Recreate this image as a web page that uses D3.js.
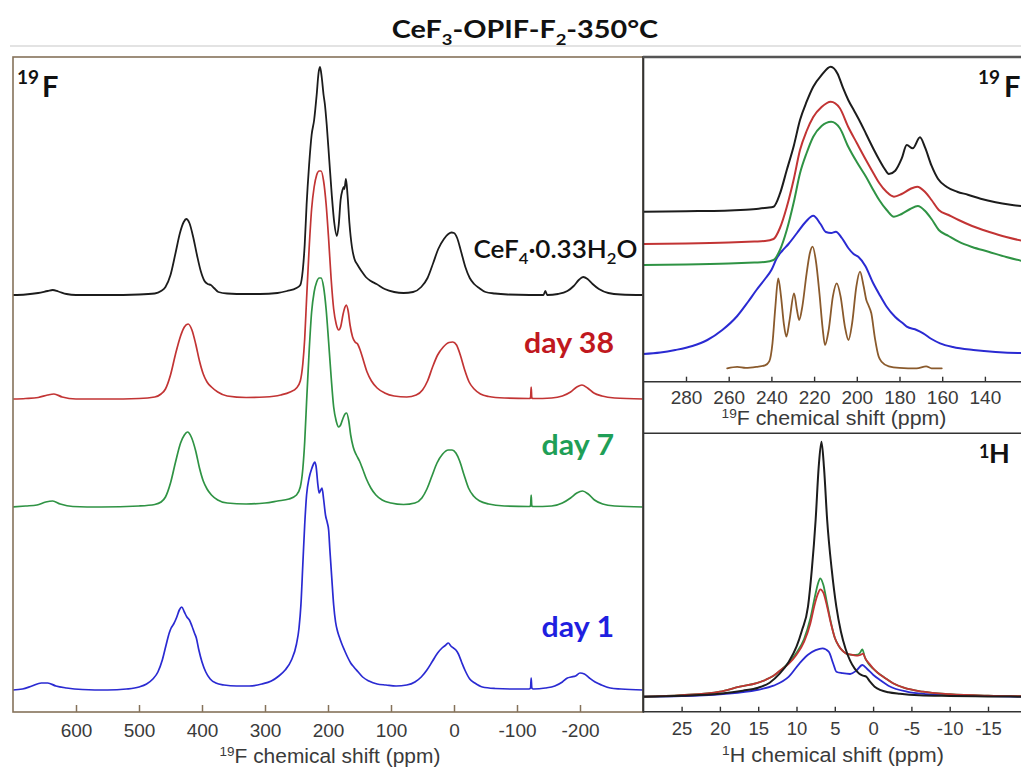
<!DOCTYPE html>
<html><head><meta charset="utf-8">
<script src="https://cdn.jsdelivr.net/npm/d3@7"></script>
<style>body{margin:0;background:#fff}svg{display:block}</style>
</head><body>
<svg id="c" width="1021" height="769"></svg>
<script>
// ---------- DATA ----------
const mainTicks = [600,500,400,300,200,100,0,-100,-200];
const f19Ticks = [280,260,240,220,200,180,160,140];
const h1Ticks = [25,20,15,10,5,0,-5,-10,-15];

const mainLabels = ["CeF4·0.33H2O","day 38","day 7","day 1"];
const mainOffsets = [417, 313, 205, 22];   // stacking offsets (a.u.)

const mainBlack = [[700,0],[680,0.5],[660,2],[645,4],[637,5],[628,3.5],[615,1],[600,0],[550,0],[500,0.5],[475,1.5],[465,4],[458,8],[450,20],[442,42],[435,62],[429,73],[425,76],[420,72],[414,58],[408,40],[402,24],[396,14],[391,11],[386,10],[381,7],[374,3],[360,1.5],[330,1],[308,1],[280,2],[265,4],[250,7],[244,10],[240,25],[237,50],[234,90],[230,130],[226,160],[222,175],[218,200],[215,222],[212.7,228],[210,218],[207,200],[205,191],[202,170],[198,135],[194,100],[190,72],[186,59],[183,70],[180,95],[177,105],[175,108],[174,106],[171.5,116],[169,100],[166,72],[162,48],[158,36],[153,30],[147,24],[140,18],[132,14],[123,11],[110,6],[95,3],[80,2],[65,3],[52,8],[42,17],[33,32],[25,46],[16,56],[9,61],[4,62.5],[0,62],[-5,57],[-11,44],[-18,28],[-25,17],[-32,11],[-40,7],[-50,3],[-65,1.5],[-85,0.5],[-120,0],[-142,0],[-145,4],[-148,0],[-165,1],[-180,4],[-190,9],[-198,15],[-205,18],[-212,16],[-220,11],[-230,6],[-245,2],[-265,0.5],[-300,0]];
const mainRed = [[700,0],[680,0.5],[660,1.5],[645,4],[635,5],[622,2],[600,0],[550,0],[500,0.5],[475,2],[465,5],[458,10],[450,24],[442,45],[434,63],[428,72],[422,75],[416,69],[410,55],[404,38],[398,25],[392,17],[385,12],[375,7],[360,3],[330,1.5],[300,2],[275,4],[260,7],[250,11],[244,18],[240,35],[237,60],[234,100],[230,150],[226,190],[222,212],[218,224],[214,228],[211,228],[207,218],[203,195],[199,160],[195,120],[191,90],[187,75],[183,69],[180,72],[176,85],[173,92],[171,94],[168,88],[165,74],[161,62],[157,57],[153,55],[149,49],[144,39],[138,27],[131,18],[122,11],[110,6],[95,3],[75,2],[60,4],[50,9],[42,18],[34,32],[26,44],[17,52],[8,56.5],[2,57],[-4,54],[-10,44],[-17,29],[-24,17],[-32,10],[-42,5],[-55,2.5],[-80,1],[-119,0.5],[-121.5,1],[-122.5,12],[-123.5,1],[-126,0.5],[-155,1],[-172,3],[-185,7],[-195,12],[-203,14],[-212,11],[-222,6],[-235,3],[-255,1],[-300,0]];
const mainGreen = [[700,0],[680,1],[662,2],[648,5],[637,6],[625,3],[605,0.5],[560,0],[500,1],[475,2.5],[465,5],[458,10],[450,24],[442,45],[434,64],[428,72],[423,75],[417,70],[410,56],[404,39],[398,26],[392,18],[385,12],[375,7],[360,4],[330,3],[300,4],[280,6],[262,8],[250,12],[244,20],[240,38],[237,65],[234,105],[230,155],[226,195],[222,215],[218,225],[214,229],[211,229],[207,220],[203,198],[199,165],[195,130],[191,100],[187,86],[183,80],[180,82],[176,89],[173,93],[170.5,94],[167,86],[164,72],[160,60],[155,52],[150,46],[145,38],[139,28],[132,19],[124,12],[114,7],[100,4],[80,2.5],[62,4],[51,9],[43,18],[35,31],[27,44],[18,53],[9,57],[3,57],[-3,54],[-9,46],[-16,32],[-23,19],[-31,11],[-41,6],[-55,3],[-80,1],[-119,0.5],[-121.5,1],[-122.5,12],[-123.5,1],[-126,0.5],[-155,1],[-172,4],[-185,9],[-195,14],[-204,16],[-213,13],[-223,7],[-236,3],[-255,1],[-300,0]];
const mainBlue = [[700,0],[685,1],[670,4],[655,7],[645,7],[632,4],[615,2],[590,0.5],[550,0],[520,1],[500,3],[488,6],[478,11],[470,18],[463,30],[457,45],[452,57],[449,62],[445,66],[440,73],[436,80],[432,83],[428,78],[424,73],[420,70],[416,64],[412,57],[409,52],[405,40],[400,28],[394,18],[387,11],[378,7],[365,5],[345,4],[325,4],[305,6],[290,9],[278,14],[268,20],[258,30],[250,46],[246,62],[243,85],[240,125],[237,165],[234,195],[230,212],[226,221],[223,226],[221,228],[219,224],[216,205],[214,197],[211.5,200],[209.5,202],[207,191],[204,175],[201,167],[199,160],[197,140],[194,112],[191,85],[188,68],[185,59],[182,53],[178,46],[174,40],[169,33],[164,27],[159,23],[152,18],[145,13],[135,9],[122,6],[108,5],[92,4],[75,5],[62,8],[52,13],[43,20],[34,29],[26,37],[19,42],[13,45],[9,47],[5,44],[1,42],[-3,40],[-7,36],[-12,28],[-18,19],[-25,11],[-33,7],[-45,3],[-65,1.5],[-90,1],[-119,1],[-121.5,2],[-122.5,12],[-123.5,2],[-126,1],[-145,2],[-160,4],[-172,8],[-180,12],[-186,13],[-193,14],[-200,17],[-207,16],[-215,12],[-224,8],[-234,5],[-248,2],[-265,1],[-300,0]];

// 19F expansion (upper right)
const f19Offsets = [170, 137.7, 116.7, 27.7, 13.4];
const f19Black = [[300,0],[280,0.5],[262,1],[252,2],[246,3],[242,4],[239,5],[236,18],[232.8,41.7],[229.5,66],[226.6,91.7],[223.5,110],[220.4,125],[216.5,136.7],[212.2,145],[209,138],[206.5,124],[204,111.7],[201,100],[198,88],[195.7,78],[192,62],[189.5,52],[187,43],[185,37.7],[182,41],[179,53],[176.6,66.7],[173.8,63.4],[170.4,74.4],[168,64],[165,46],[162,33],[158,25],[153,20],[148,17],[142,13],[135,9.5],[128,7],[120,5]];
const f19Red = [[300,0],[280,0.5],[260,1.5],[248,2.5],[243,3],[239,5],[236,16],[232.8,37],[229.5,65],[226.6,94],[223.5,113],[220.4,127],[216.5,137],[212.2,142.3],[208,136],[204,117],[200,101],[195.7,84],[192,70],[189.5,61],[186,52],[182.6,47.3],[179,50],[175,55],[171.7,57.3],[168,52],[165,44],[161.6,34],[157,29],[152.3,24],[146,18],[138.3,12.3],[130,7],[123,3.5],[120,2.5]];
const f19Green = [[300,0],[280,0.5],[260,1.5],[248,2.5],[243,3],[239,5],[236,15],[232.8,35],[229.5,63],[226.6,91.7],[223.5,112],[220.4,128.3],[216.5,139],[212,143.3],[208,137],[204,118.3],[200,103],[195.7,88.3],[192,74],[189.5,65],[186,55],[182.6,48.3],[179,51],[175,56],[171.4,59],[168,54],[165,46],[161.6,35],[157,29],[152.3,23.3],[146,18],[138.3,13.3],[130,8],[123,4.3],[120,3]];
const f19Blue = [[300,0],[292,1.5],[285,4],[277,8],[270,14],[263,24],[256,38],[251,52],[247,64],[243,75],[240,84],[237.5,95.7],[235,103],[232,110],[228,121],[224,132],[220.4,138.3],[217,130],[214.5,122],[212,121],[209.8,122.3],[207,116],[204,106],[201.5,100],[199.3,97.3],[196,88],[192.3,70.7],[189,58],[186,47.3],[182,37],[178,30],[176.6,27.3],[172,24],[168.9,20.7],[165,15],[161,10.7],[155,7],[145.4,4],[135,2],[123,1],[120,1]];
const f19Brown = [[260.7,0],[256,1.5],[252,0.5],[247,1.5],[243,3],[241,7],[239.5,25],[238.2,60],[236.8,90],[235.5,72],[234.2,45],[233,31.6],[231.5,48],[229.4,75],[228,58],[227,48.3],[225.5,62],[223.5,95],[222,115],[220.7,121.6],[219.2,108],[217.5,75],[216,40],[214.9,23.3],[213.2,38],[211.2,72],[209.4,85],[207.6,72],[205.6,42],[203.9,28.3],[202.2,45],[200.2,82],[198.5,96.6],[196.8,82],[195.5,68],[194.6,63.3],[193.2,55],[191.5,30],[189.8,12],[188.4,6.6],[185,2],[180,0.5],[172,0],[167.5,2],[165,0],[160.2,0]];

// 1H (lower right)
const h1Offset = 15;
const h1Black = [[30,0],[25,1],[20,3],[17,6],[15,9],[13.5,14],[12.2,23],[11,35],[10,50],[9.3,66],[8.5,90],[8.0,127],[7.5,177],[7.1,230],[6.74,255],[6.4,228],[6.0,177],[5.4,127],[4.8,90],[4.2,65],[3.6,48],[3.0,36],[2.4,28],[1.8,23],[1.3,21],[0.9,20],[0.4,15],[-0.2,10],[-1,6.5],[-2,4.5],[-3.5,3],[-6,1.5],[-10,0.8],[-15,0.3],[-20,0]];
const h1Red = [[30,0],[25,1.5],[20,5],[17.4,10],[15.2,13.5],[14,17],[13,21],[12,27],[11,33],[10,42],[9,55],[8.2,73],[7.6,93],[7.2,103],[6.9,107.4],[6.5,104],[6.0,90],[5.5,73],[5.0,59],[4.5,51],[4.0,46],[3.5,43],[2.6,41.7],[2.0,41],[1.6,42],[1.3,43],[1.0,38],[0.5,33],[0,28.4],[-0.6,24],[-1.5,19],[-2.6,13.4],[-4,9],[-6.5,5],[-10,2.5],[-15,1],[-20,0.5]];
const h1Green = [[30,0],[25,1.5],[20,5],[17.4,10],[15.2,13.5],[14,17],[13,21],[12,27],[11,34],[10,44],[9,58],[8.2,78],[7.6,100],[7.2,113],[6.9,118.4],[6.5,112],[6.0,93],[5.5,74],[5.0,59],[4.5,51],[4.0,46],[3.5,43],[2.6,41.7],[2.0,42],[1.7,44],[1.4,47.4],[1.1,40],[0.6,33],[0,28],[-0.6,24],[-1.5,19],[-2.6,13.4],[-4,9],[-6.5,5],[-10,2.5],[-15,1],[-20,0.5]];
const h1Blue = [[30,0],[25,0.5],[19.6,2.7],[15.2,6.7],[13,11],[11,20],[9.6,33.4],[8.5,42],[7.5,46.5],[6.6,48.4],[5.8,45],[5.2,33],[4.8,25],[4.0,23.5],[3.0,22.7],[2.2,26],[1.4,31.7],[0.8,28],[0,22],[-0.9,16.7],[-2,11],[-4.4,5],[-7,2.5],[-10,1.5],[-15,0.5],[-20,0]];

// ---------- DRAWING ----------
const C = {black:"#1c1c1c", red:"#c23434", green:"#2f9344", blue:"#2a2ad2", brown:"#8a5a2c",
           lblRed:"#c0181e", lblGreen:"#1f9f57", lblBlue:"#1f1fe0", frame:"#85725a", dark:"#3a3a3a"};
const svg = d3.select("#c");
const defs = svg.append("defs");
function clip(id,x,y,w,h){defs.append("clipPath").attr("id",id).append("rect").attr("x",x).attr("y",y).attr("width",w).attr("height",h);}

const xMain = d3.scaleLinear().domain([700,-300]).range([13,643]);
const yMain = d3.scaleLinear().domain([0,655]).range([712,57]);
const xF = d3.scaleLinear().domain([300,120]).range([643.3,1027.6]);
const yF = d3.scaleLinear().domain([0,324.7]).range([381.7,57]);
const xH = d3.scaleLinear().domain([30,-20]).range([643.3,1026.3]);
const yH = d3.scaleLinear().domain([0,278.7]).range([711.7,433]);
const plainFmt = d => String(d);

clip("cm",13,57,630,655); clip("cf",643,57,378,325); clip("ch",643,433,378,279);

function trace(g,data,off,x,y,color,w){
  const pts = data.map(d=>[d[0],d[1]+off]).sort((a,b)=>x(a[0])-x(b[0]));
  g.append("path").attr("d",d3.line().x(d=>x(d[0])).y(d=>y(d[1])).curve(d3.curveMonotoneX)(pts))
   .attr("fill","none").attr("stroke",color).attr("stroke-width",w)
   .attr("stroke-linejoin","round").attr("stroke-linecap","round");
}
function fit(sel,target,mode){
  const bb = sel.node().getBBox(); const k = target/bb.width;
  const ax = mode==="start"?bb.x:(mode==="end"?bb.x+bb.width:bb.x+bb.width/2);
  sel.attr("transform",`translate(${ax},0) scale(${k},1) translate(${-ax},0)`);
  return k;
}

// header separator
svg.append("line").attr("x1",10).attr("x2",1021).attr("y1",46).attr("y2",46).attr("stroke","#e3e3e3").attr("stroke-width",2);

// title
const title = svg.append("text").attr("x",525).attr("y",38).attr("text-anchor","middle")
  .attr("font-family","Lato, 'Open Sans', sans-serif").attr("font-weight",700).attr("font-size",25).attr("fill","#111");
title.append("tspan").text("CeF");
title.append("tspan").attr("font-size",16).attr("dy",7).text("3");
title.append("tspan").attr("dy",-7).text("-OPIF-F");
title.append("tspan").attr("font-size",16).attr("dy",7).text("2");
title.append("tspan").attr("dy",-7).text("-350°C");
fit(title,267,"middle");

// ---- main panel ----
const gm = svg.append("g").attr("clip-path","url(#cm)");
trace(gm,mainBlue,mainOffsets[3],xMain,yMain,C.blue,1.7);
trace(gm,mainGreen,mainOffsets[2],xMain,yMain,C.green,1.7);
trace(gm,mainRed,mainOffsets[1],xMain,yMain,C.red,1.7);
trace(gm,mainBlack,mainOffsets[0],xMain,yMain,C.black,1.8);

svg.append("rect").attr("x",13).attr("y",57).attr("width",630).attr("height",655)
  .attr("fill","none").attr("stroke",C.frame).attr("stroke-width",1.6);

const axM = svg.append("g").attr("transform","translate(0,712)")
  .call(d3.axisBottom(xMain).tickValues(mainTicks).tickFormat(plainFmt).tickSizeInner(-7).tickSizeOuter(0).tickPadding(11.5));
axM.select(".domain").remove();
axM.selectAll(".tick line").attr("stroke",C.frame).attr("stroke-width",1.5);
axM.selectAll(".tick text").attr("font-family","'Liberation Sans', Arial, sans-serif").attr("font-size",19).attr("fill",C.dark);

function axisTitle(x,y,sup,rest,w){
  const t = svg.append("text").attr("x",x).attr("y",y).attr("text-anchor","middle")
    .attr("font-family","'Liberation Sans', Arial, sans-serif").attr("font-size",19.5).attr("fill",C.dark);
  t.append("tspan").attr("font-size",12.5).attr("dy",-7).text(sup);
  t.append("tspan").attr("dy",7).text(rest);
  fit(t,w,"middle");
}
axisTitle(330,763,"19","F chemical shift (ppm)",221);

// labels main
const lblFont = "Lato, 'Open Sans', sans-serif";
const cef = svg.append("text").attr("x",473.5).attr("y",258).attr("font-family",lblFont)
  .attr("font-weight",600).attr("font-size",25).attr("fill","#111");
cef.append("tspan").text("CeF");
cef.append("tspan").attr("font-size",16).attr("dy",6).text("4");
cef.append("tspan").attr("dy",-6).text("·0.33H");
cef.append("tspan").attr("font-size",16).attr("dy",6).text("2");
cef.append("tspan").attr("dy",-6).text("O");
fit(cef,164,"start");

const dayData = [[mainLabels[1],353,C.lblRed],[mainLabels[2],455,C.lblGreen],[mainLabels[3],637,C.lblBlue]];
let kDay = null;
dayData.forEach(d=>{
  const t = svg.append("text").attr("x",614).attr("y",d[1]).attr("text-anchor","end")
    .attr("font-family",lblFont).attr("font-weight",700).attr("font-size",28).attr("fill",d[2]).text(d[0]);
  if(kDay===null){ kDay = fit(t,90,"end"); }
  else { const bb=t.node().getBBox(); const ax=bb.x+bb.width; t.attr("transform",`translate(${ax},0) scale(${kDay},1) translate(${-ax},0)`); }
});

function nucLabel(x1,x2,ysup,y,sup,main,fsSup,fsMain){
  const t = svg.append("text").attr("font-family",lblFont).attr("font-weight",700).attr("fill","#111");
  t.append("tspan").attr("x",x1).attr("y",ysup).attr("font-size",fsSup).text(sup);
  t.append("tspan").attr("x",x2).attr("y",y).attr("font-size",fsMain).text(main);
}
nucLabel(17,42,84,97,"19","F",19,29);

// ---- upper right 19F ----
const gf = svg.append("g").attr("clip-path","url(#cf)");
trace(gf,f19Brown,f19Offsets[4],xF,yF,C.brown,1.8);
trace(gf,f19Blue,f19Offsets[3],xF,yF,C.blue,2);
trace(gf,f19Green,f19Offsets[2],xF,yF,C.green,2);
trace(gf,f19Red,f19Offsets[1],xF,yF,C.red,2);
trace(gf,f19Black,f19Offsets[0],xF,yF,C.black,2);

const axF = svg.append("g").attr("transform","translate(0,381.7)")
  .call(d3.axisBottom(xF).tickValues(f19Ticks).tickFormat(plainFmt).tickSizeInner(-5).tickSizeOuter(0).tickPadding(9));
axF.select(".domain").remove();
axF.selectAll(".tick line").attr("stroke","#333").attr("stroke-width",1.4);
axF.selectAll(".tick text").attr("font-family","'Liberation Sans', Arial, sans-serif").attr("font-size",19).attr("fill",C.dark);
axisTitle(834,425,"19","F chemical shift (ppm)",225);
nucLabel(978,1004,84,97,"19","F",19,29);

// ---- lower right 1H ----
const gh = svg.append("g").attr("clip-path","url(#ch)");
trace(gh,h1Blue,h1Offset,xH,yH,C.blue,1.8);
trace(gh,h1Green,h1Offset,xH,yH,C.green,1.8);
trace(gh,h1Red,h1Offset,xH,yH,C.red,1.8);
trace(gh,h1Black,h1Offset,xH,yH,C.black,2);

const axH = svg.append("g").attr("transform","translate(0,711.7)")
  .call(d3.axisBottom(xH).tickValues(h1Ticks).tickFormat(plainFmt).tickSizeInner(-5).tickSizeOuter(0).tickPadding(10));
axH.select(".domain").remove();
axH.selectAll(".tick line").attr("stroke","#333").attr("stroke-width",1.4);
axH.selectAll(".tick text").attr("font-family","'Liberation Sans', Arial, sans-serif").attr("font-size",18.5).attr("fill",C.dark);
axisTitle(833,761.7,"1","H chemical shift (ppm)",222);
nucLabel(979,989,458,463.3,"1","H",18,27);

// right panel frame lines
const fr = svg.append("g").attr("stroke","#333").attr("fill","none");
fr.append("line").attr("x1",643.3).attr("x2",643.3).attr("y1",56).attr("y2",712.5).attr("stroke-width",2);
fr.append("line").attr("x1",643).attr("x2",1021).attr("y1",57).attr("y2",57).attr("stroke","#555").attr("stroke-width",2.4);
fr.append("line").attr("x1",643).attr("x2",1021).attr("y1",381.7).attr("y2",381.7).attr("stroke-width",1.6);
fr.append("line").attr("x1",643).attr("x2",1021).attr("y1",433.3).attr("y2",433.3).attr("stroke-width",1.6);
fr.append("line").attr("x1",643).attr("x2",1021).attr("y1",711.7).attr("y2",711.7).attr("stroke-width",1.6);
</script>
</body></html>
